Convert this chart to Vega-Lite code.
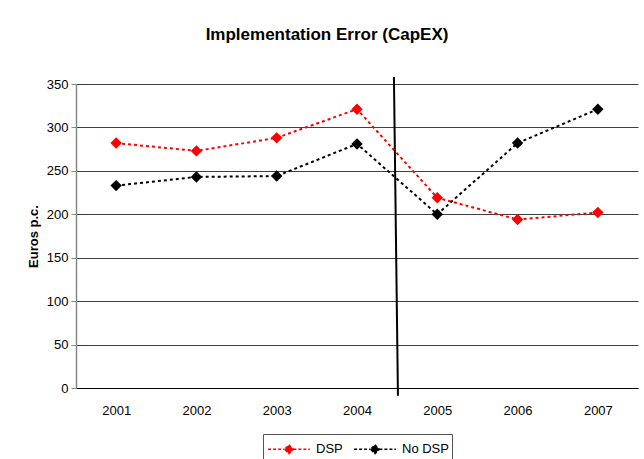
{
  "$schema": "https://vega.github.io/schema/vega-lite/v6.json",
  "width": 562,
  "height": 304,
  "autosize": {"type": "none"},
  "padding": {"left": 76, "top": 84, "right": 6, "bottom": 71},
  "background": "white",
  "config": {
    "font": "Liberation Sans",
    "view": {"stroke": null},
    "axis": {"labelFont": "Liberation Sans", "titleFont": "Liberation Sans", "labelColor": "#000", "titleColor": "#000", "labelFontSize": 13}
  },
  "title": {
    "text": "Implementation Error (CapEX)",
    "fontSize": 17,
    "fontWeight": "bold",
    "font": "Liberation Sans",
    "anchor": "middle",
    "baseline": "alphabetic",
    "offset": 19,
    "dx": -30,
    "color": "#000"
  },
  "datasets": {
    "series": [
      {"year": 2001, "series": "DSP", "value": 282},
      {"year": 2002, "series": "DSP", "value": 273},
      {"year": 2003, "series": "DSP", "value": 288},
      {"year": 2004, "series": "DSP", "value": 321},
      {"year": 2005, "series": "DSP", "value": 219},
      {"year": 2006, "series": "DSP", "value": 194},
      {"year": 2007, "series": "DSP", "value": 202},
      {"year": 2001, "series": "No DSP", "value": 233},
      {"year": 2002, "series": "No DSP", "value": 243},
      {"year": 2003, "series": "No DSP", "value": 244},
      {"year": 2004, "series": "No DSP", "value": 281},
      {"year": 2005, "series": "No DSP", "value": 200},
      {"year": 2006, "series": "No DSP", "value": 282},
      {"year": 2007, "series": "No DSP", "value": 321}
    ],
    "divider": [
      {"x": 2004.46, "y": 358, "x2": 2004.51, "y2": -9}
    ]
  },
  "layer": [
    {
      "data": {"name": "divider"},
      "mark": {"type": "rule", "color": "#000", "strokeWidth": 2},
      "encoding": {
        "x": {"field": "x", "type": "quantitative"},
        "x2": {"field": "x2"},
        "y": {"field": "y", "type": "quantitative"},
        "y2": {"field": "y2"}
      }
    },
    {
      "data": {"name": "series"},
      "mark": {"type": "line", "strokeWidth": 2, "strokeDash": [3, 3]},
      "encoding": {
        "x": {"field": "year", "type": "quantitative"},
        "y": {"field": "value", "type": "quantitative"},
        "color": {"field": "series", "type": "nominal"}
      }
    },
    {
      "data": {"name": "series"},
      "mark": {"type": "point", "shape": "diamond", "filled": true, "size": 130, "opacity": 1},
      "encoding": {
        "x": {"field": "year", "type": "quantitative"},
        "y": {"field": "value", "type": "quantitative"},
        "color": {"field": "series", "type": "nominal"}
      }
    }
  ],
  "resolve": {"scale": {"x": "shared", "y": "shared", "color": "shared"}},
  "encoding": {
    "x": {
      "type": "quantitative",
      "scale": {"domain": [2000.5, 2007.5], "nice": false, "zero": false},
      "axis": {"title": null, "values": [2001, 2002, 2003, 2004, 2005, 2006, 2007], "format": "d", "grid": false, "ticks": false, "labelPadding": 16, "domain": true, "domainColor": "#000", "domainWidth": 1, "labelFlush": false}
    },
    "y": {
      "type": "quantitative",
      "scale": {"domain": [0, 350], "nice": false},
      "axis": {"title": "Euros p.c.", "titleFontSize": 13, "titleFontWeight": "bold", "titlePadding": 6, "values": [0, 50, 100, 150, 200, 250, 300, 350], "grid": true, "gridColor": "#404040", "gridWidth": 1, "domainColor": "#888", "domainWidth": 1.5, "tickColor": "#888", "tickSize": 5, "labelPadding": 3}
    },
    "color": {
      "type": "nominal",
      "scale": {"domain": ["DSP", "No DSP"], "range": ["#FF0000", "#000000"]},
      "legend": {
        "title": null,
        "orient": "none",
        "legendX": 187,
        "legendY": 350,
        "direction": "horizontal",
        "strokeColor": "#555",
        "padding": 3,
        "labelFontSize": 13,
        "labelFont": "Liberation Sans",
        "labelColor": "#000",
        "symbolType": "M-1.9,0H-0.4M0.4,0H1.9M0,-0.4L0.4,0L0,0.4L-0.4,0Z",
        "symbolSize": 484,
        "symbolOffset": 11,
        "symbolStrokeWidth": 1.5,
        "symbolDash": [3, 2],
        "symbolOpacity": 1,
        "columnPadding": 8,
        "labelOffset": 15,
        "encode": {"symbols": {"update": {"fill": {"scale": "color", "field": "value"}, "stroke": {"scale": "color", "field": "value"}}}}
      }
    }
  }
}
